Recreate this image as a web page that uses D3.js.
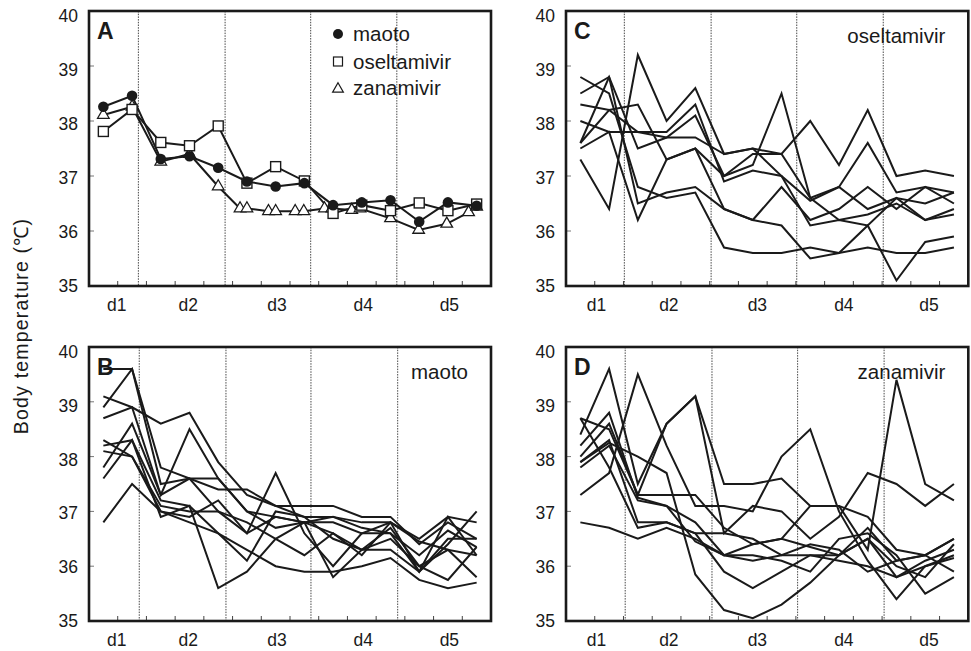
<!DOCTYPE html>
<html><head><meta charset="utf-8">
<script src="https://cdn.jsdelivr.net/npm/d3@7"></script>
<style>
body{margin:0;background:#fff}
svg text{font-family:"Liberation Sans",Arial,Helvetica,sans-serif;fill:#1a1a1a}
</style>
</head><body>
<svg id="chart" width="971" height="651"></svg>
<script>
// ---------- DATA ----------
// measurement index (3 measurements per day)
const times = [0,1,2,3,4,5,6,7,8,9,10,11,12,13];
const dayLabels = ["d1","d2","d3","d4","d5"];
const yTickValues = [35,36,37,38,39,40];
const xMinorTicks = [0.5,1.5,2.5,3.5,4.5,5.5,6.5,7.5,8.5,9.5,10.5,11.5,12.5];
const dayLabelPosLeft  = [0.47, 2.96, 6.05, 9.05, 12.05];
const dayLabelPosRight = [0.56, 3.08, 6.16, 9.17, 12.13];
const dayBoundsA = [1.22, 4.24, 7.22, 10.22];
const dayBoundsB = [1.25, 4.27, 7.23, 10.25];
const dayBoundsC = [1.53, 4.55, 7.53, 10.54];
const dayBoundsD = [1.56, 4.58, 7.56, 10.57];

// Panel A: group means
const maotoMean       = [38.26,38.46,37.31,37.36,37.15,36.90,36.81,36.87,36.47,36.52,36.56,36.17,36.52,36.46];
const oseltamivirMean = [37.81,38.21,37.61,37.55,37.91,36.87,37.17,36.91,36.32,36.47,36.37,36.51,36.37,36.49];
const zanamivirTimes  = [0,1,2,3,4,4.76,5,5.75,6,6.68,6.98,7.7,7.96,8.65,8.94,10,10.98,11.96,12.72,13];
const zanamivirMean   = [38.11,38.26,37.26,37.40,36.81,36.41,36.41,36.36,36.36,36.36,36.36,36.41,36.41,36.38,36.41,36.23,36.02,36.13,36.34,36.44];

// Panel B: maoto individual patients
const maotoPatients = [
  [39.6,39.6,37.8,37.6,37.6,37.0,36.9,36.8,36.6,36.3,36.5,36.0,36.3,36.2],
  [38.9,39.6,37.5,37.6,37.4,37.4,37.1,36.9,36.9,36.8,36.8,36.5,36.9,36.8],
  [39.1,38.9,38.6,38.8,37.9,37.3,37.1,37.1,37.1,36.9,36.9,36.4,36.8,36.5],
  [38.7,38.9,37.3,37.6,37.0,36.6,36.9,36.8,36.9,36.7,36.6,36.2,36.65,36.35],
  [38.3,38.0,37.0,36.9,37.2,36.6,37.7,36.6,36.0,36.6,36.6,35.9,36.5,36.5],
  [38.2,38.3,37.2,37.1,36.6,36.1,37.0,36.9,36.5,36.3,36.3,35.9,36.4,37.0],
  [38.1,38.0,37.1,37.0,37.0,36.8,36.5,36.2,36.6,36.2,36.8,35.9,36.9,36.2],
  [37.8,38.6,37.3,38.5,37.6,37.0,36.7,36.8,36.8,36.6,36.8,36.45,36.3,35.8],
  [37.6,38.3,36.9,37.1,35.6,35.9,36.5,36.8,35.8,36.3,36.7,36.0,35.75,36.35],
  [36.8,37.5,37.0,36.8,36.6,36.3,36.0,35.9,35.9,36.0,36.15,35.75,35.6,35.7]
];

// Panel C: oseltamivir individual patients
const oseltamivirPatients = [
  [38.8,38.5,36.8,36.6,36.7,35.7,35.6,35.6,35.7,35.6,35.7,35.6,35.6,35.7],
  [38.5,38.8,36.5,36.7,36.8,36.4,36.2,36.1,35.5,35.6,36.1,35.1,35.8,35.9],
  [37.3,36.4,39.2,38.0,38.6,37.4,37.5,37.4,38.0,37.2,38.2,37.0,37.1,37.0],
  [38.3,38.2,38.3,37.3,37.5,37.0,37.2,38.5,36.6,36.8,37.6,36.7,36.8,36.7],
  [38.0,37.8,37.8,37.8,38.3,36.9,37.1,37.0,36.55,36.8,36.4,36.6,36.2,36.4],
  [37.6,38.8,37.5,37.7,38.1,37.0,37.4,37.4,36.6,36.2,36.3,36.5,36.2,36.3],
  [37.5,37.8,36.2,37.3,37.5,36.4,36.2,36.8,36.2,36.4,36.8,36.4,36.8,36.5],
  [37.6,38.2,37.8,37.7,37.7,37.4,37.5,37.0,36.1,36.2,36.1,36.6,36.5,36.7]
];

// Panel D: zanamivir individual patients
const zanamivirPatients = [
  [38.0,38.6,37.3,37.3,37.3,36.7,36.4,36.5,37.1,37.1,36.3,39.4,37.5,37.2],
  [37.3,37.7,39.5,38.2,37.1,37.1,37.0,38.0,38.5,37.0,36.1,35.4,36.0,36.2],
  [38.4,39.6,37.5,38.6,39.1,37.5,37.5,37.6,37.1,37.1,36.9,36.3,36.2,36.5],
  [38.7,38.5,37.3,38.6,39.1,36.6,37.1,37.0,36.5,36.9,37.7,37.5,37.1,37.5],
  [37.9,38.3,36.8,36.8,36.6,36.6,36.5,36.2,36.4,36.3,35.9,36.1,36.2,36.5],
  [38.2,38.8,37.25,37.1,36.45,36.2,36.2,36.1,35.9,36.5,36.6,36.2,35.5,35.8],
  [37.8,38.2,37.2,37.1,36.8,36.2,36.4,36.5,36.35,36.2,36.7,36.1,36.2,35.9],
  [36.8,36.7,36.5,36.7,36.5,36.2,36.1,36.2,36.2,36.1,36.0,35.8,36.0,36.15],
  [38.7,37.8,36.7,36.8,36.6,35.9,35.6,35.9,36.2,36.2,36.5,36.0,35.8,36.4],
  [37.9,38.25,38.0,37.7,35.85,35.2,35.05,35.3,35.7,36.2,36.5,35.8,36.1,36.3]
];

// ---------- LAYOUT ----------
const svg = d3.select("#chart");
const INK = "#1a1a1a";

const panels = [
  {letter:"A", x0:89,  x1:491,   y0:11,  y1:286, bounds:dayBoundsA, dayPos:dayLabelPosLeft,  title:null},
  {letter:"C", x0:566, x1:968.3, y0:11,  y1:286, bounds:dayBoundsC, dayPos:dayLabelPosRight, title:"oseltamivir", series:oseltamivirPatients},
  {letter:"B", x0:89,  x1:491,   y0:347, y1:621, bounds:dayBoundsB, dayPos:dayLabelPosLeft,  title:"maoto", series:maotoPatients},
  {letter:"D", x0:566, x1:968.3, y0:347, y1:621, bounds:dayBoundsD, dayPos:dayLabelPosRight, title:"zanamivir", series:zanamivirPatients}
];

panels.forEach(p => {
  const g = svg.append("g");
  const x = d3.scaleLinear().domain([-0.5, 13.5]).range([p.x0, p.x1]);
  const y = d3.scaleLinear().domain([35, 40]).range([p.y1, p.y0]);
  p.x = x; p.y = y; p.g = g;

  // day boundary dotted lines
  g.selectAll(".bnd").data(p.bounds).enter().append("line")
    .attr("x1", d => x(d)).attr("x2", d => x(d))
    .attr("y1", p.y0).attr("y2", p.y1)
    .attr("stroke", "#333").attr("stroke-width", 0.9)
    .attr("stroke-dasharray", "1.5,1.2");

  // bottom inner ticks
  g.selectAll(".xt").data(xMinorTicks).enter().append("line")
    .attr("x1", d => x(d)).attr("x2", d => x(d))
    .attr("y1", p.y1).attr("y2", p.y1 - 5)
    .attr("stroke", "#444").attr("stroke-width", 1);

  // left inner ticks
  g.selectAll(".yt").data(yTickValues.slice(1, -1)).enter().append("line")
    .attr("x1", p.x0).attr("x2", p.x0 + 5)
    .attr("y1", d => y(d)).attr("y2", d => y(d))
    .attr("stroke", "#777").attr("stroke-width", 1);

  // y tick labels
  g.selectAll(".yl").data(yTickValues).enter().append("text")
    .attr("x", p.x0 - 11)
    .attr("y", d => y(d) + (d - 35) * 1.0 + 6)
    .attr("text-anchor", "end")
    .attr("font-size", 17.5)
    .text(d => d);

  // day labels
  g.selectAll(".dl").data(dayLabels).enter().append("text")
    .attr("x", (d, i) => x(p.dayPos[i]))
    .attr("y", p.y1 + 25)
    .attr("text-anchor", "middle")
    .attr("font-size", 17.5)
    .text(d => d);

  // individual lines
  if (p.series) {
    const line = d3.line().x((d, i) => x(times[i])).y(d => y(d));
    g.selectAll(".pl").data(p.series).enter().append("path")
      .attr("d", line)
      .attr("fill", "none")
      .attr("stroke", INK)
      .attr("stroke-width", 2)
      .attr("stroke-linejoin", "miter");
  }

  // frame
  g.append("rect")
    .attr("x", p.x0).attr("y", p.y0)
    .attr("width", p.x1 - p.x0).attr("height", p.y1 - p.y0)
    .attr("fill", "none").attr("stroke", "#1a1a1a").attr("stroke-width", 2.6);

  // panel letter
  g.append("text")
    .attr("x", p.x0 + 8).attr("y", p.y0 + 28)
    .attr("font-size", 23).attr("font-weight", "bold")
    .text(p.letter);

  // drug name
  if (p.title) {
    g.append("text")
      .attr("x", p.x1 - 23).attr("y", p.y0 + 32)
      .attr("text-anchor", "end")
      .attr("font-size", 20.5)
      .text(p.title);
  }
});

// ---------- Panel A: means with markers ----------
{
  const p = panels[0], g = p.g, x = p.x, y = p.y;
  const lineT = d3.line().x(d => x(d[0])).y(d => y(d[1]));
  const mao = times.map((t, i) => [t, maotoMean[i]]);
  const ose = times.map((t, i) => [t, oseltamivirMean[i]]);
  const zan = zanamivirTimes.map((t, i) => [t, zanamivirMean[i]]);
  [zan, ose, mao].forEach(s => {
    g.append("path").attr("d", lineT(s)).attr("fill", "none")
      .attr("stroke", INK).attr("stroke-width", 2);
  });
  const tri = d3.symbol().type(d3.symbolTriangle).size(58);
  g.selectAll(".tri").data(zan).enter().append("path")
    .attr("d", tri).attr("transform", d => `translate(${x(d[0])},${y(d[1])})`)
    .attr("fill", "#fff").attr("stroke", INK).attr("stroke-width", 1.3);
  g.selectAll(".sq").data(ose).enter().append("rect")
    .attr("x", d => x(d[0]) - 5).attr("y", d => y(d[1]) - 5)
    .attr("width", 10).attr("height", 10)
    .attr("fill", "#fff").attr("stroke", INK).attr("stroke-width", 1.4);
  g.selectAll(".ci").data(mao).enter().append("circle")
    .attr("cx", d => x(d[0])).attr("cy", d => y(d[1])).attr("r", 5.3)
    .attr("fill", INK);

  // legend
  const legend = [
    {name:"maoto", kind:"circle"},
    {name:"oseltamivir", kind:"square"},
    {name:"zanamivir", kind:"triangle"}
  ];
  const lx = 338, ly = [34, 61.5, 88];
  legend.forEach((d, i) => {
    if (d.kind === "circle") {
      g.append("circle").attr("cx", lx).attr("cy", ly[i]).attr("r", 5).attr("fill", INK);
    } else if (d.kind === "square") {
      g.append("rect").attr("x", lx - 4.5).attr("y", ly[i] - 4.5).attr("width", 9).attr("height", 9)
        .attr("fill", "#fff").attr("stroke", INK).attr("stroke-width", 1.2);
    } else {
      g.append("path").attr("d", d3.symbol().type(d3.symbolTriangle).size(50))
        .attr("transform", `translate(${lx},${ly[i] + 1})`)
        .attr("fill", "#fff").attr("stroke", INK).attr("stroke-width", 1.2);
    }
    g.append("text").attr("x", lx + 15).attr("y", ly[i] + 7)
      .attr("font-size", 20.5).text(d.name);
  });
}

// ---------- y-axis title ----------
svg.append("text")
  .attr("transform", "translate(28,326) rotate(-90)")
  .attr("text-anchor", "middle")
  .attr("font-size", 19.5)
  .attr("letter-spacing", 1.2)
  .text("Body temperature (℃)");
</script>
</body></html>
